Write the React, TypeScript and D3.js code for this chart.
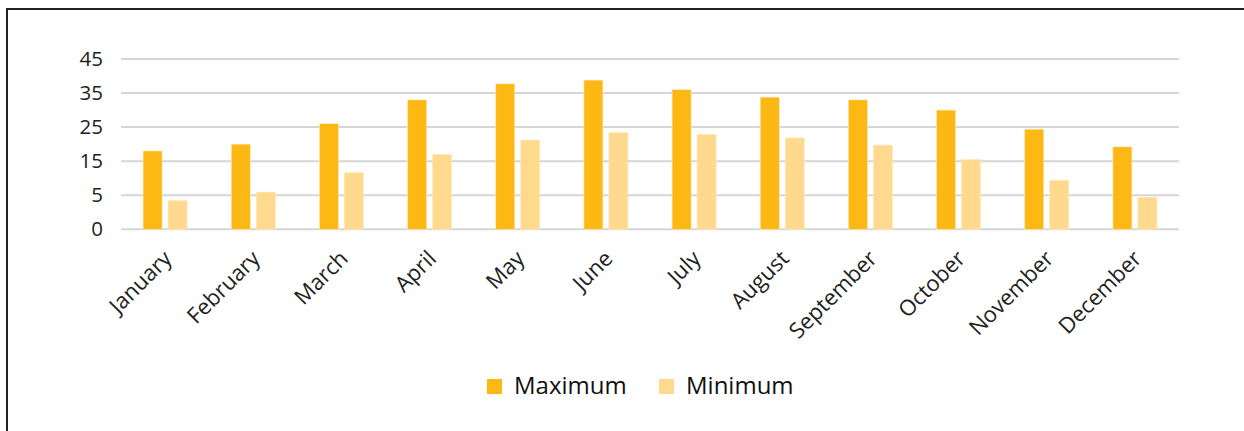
import React from "react";
import * as d3 from "d3";

const months = [
  "January", "February", "March", "April", "May", "June",
  "July", "August", "September", "October", "November", "December",
];
const maximum = [18, 20, 26, 33, 37.7, 38.8, 36, 33.8, 33, 30, 24.4, 19.2];
const minimum = [4.2, 5.9, 11.6, 17, 21.2, 23.4, 22.9, 21.8, 19.7, 15.5, 9.4, 4.7];
const yTicks = [0, 5, 15, 25, 35, 45];
const seriesNames = ["Maximum", "Minimum"];

const W = 1244;
const H = 431;
const plot = { left: 121, right: 1179, top: 59, bottom: 229.3 };
const colors = ["#FDB813", "#FFD98E"];
const font = "'Open Sans', 'Noto Sans', sans-serif";

export default function App() {
  const x = d3.scaleBand<string>().domain(months).range([plot.left, plot.right]);
  // Tick values sit at evenly spaced heights, so the scale is piecewise linear
  const y = d3
    .scaleLinear()
    .domain(yTicks)
    .range(yTicks.map((_, i) => plot.bottom - (i * (plot.bottom - plot.top)) / (yTicks.length - 1)));

  const barW = 19;
  const gap = 6;
  const series = [maximum, minimum];

  return (
    <svg
      width={W}
      height={H}
      style={{ position: "absolute", left: 0, top: 0, background: "#fff" }}
      fontFamily={font}
    >
      {/* outer frame */}
      <path d={`M7,${H + 2} V9 H${W + 2}`} fill="none" stroke="#222" strokeWidth={2} />

      {/* gridlines */}
      {yTicks.map((t) => (
        <line
          key={t}
          x1={plot.left}
          x2={plot.right}
          y1={y(t)}
          y2={y(t)}
          stroke="#d6d6d6"
          strokeWidth={2}
        />
      ))}

      {/* y labels */}
      {yTicks.map((t) => (
        <text
          key={t}
          x={103}
          y={y(t) + 1.5}
          textAnchor="end"
          dominantBaseline="middle"
          fontSize={20.5}
          fill="#222"
        >
          {t}
        </text>
      ))}

      {/* bars */}
      {months.map((m, i) => {
        const cx = (x(m) as number) + x.bandwidth() / 2;
        return series.map((s, k) => {
          const bx = k === 0 ? cx - gap / 2 - barW : cx + gap / 2;
          return (
            <rect
              key={m + k}
              x={bx}
              y={y(s[i])}
              width={barW}
              height={plot.bottom - y(s[i])}
              fill={colors[k]}
              stroke="#ffe9b8"
              strokeWidth={0.6}
            />
          );
        });
      })}

      {/* x labels */}
      {months.map((m) => {
        const cx = (x(m) as number) + x.bandwidth() / 2 + 8;
        const ty = 260;
        return (
          <text
            key={m}
            transform={`translate(${cx},${ty}) rotate(-45)`}
            textAnchor="end"
            fontSize={22}
            fill="#222"
          >
            {m}
          </text>
        );
      })}

      {/* legend */}
      {seriesNames.map((n, k) => {
        const lx = k === 0 ? 487 : 659;
        return (
          <g key={n}>
            <rect x={lx} y={379} width={15} height={15} fill={colors[k]} />
            <text x={lx + 27} y={394} fontSize={24} fill="#111">
              {n}
            </text>
          </g>
        );
      })}
    </svg>
  );
}
